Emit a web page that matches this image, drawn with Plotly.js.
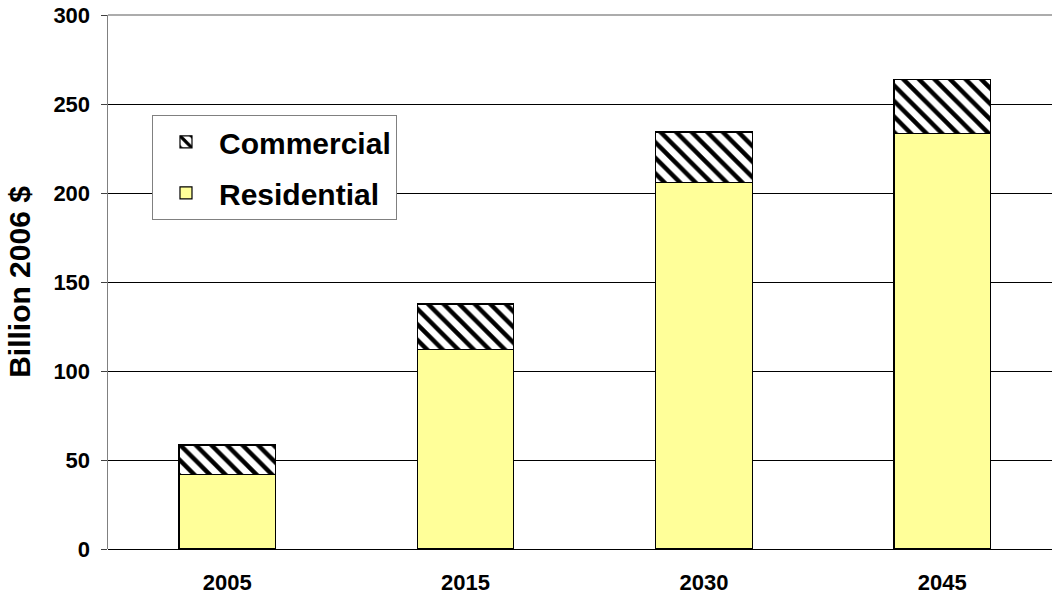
<!DOCTYPE html>
<html>
<head>
<meta charset="utf-8">
<script src="https://cdn.plot.ly/plotly-3.0.1.min.js"></script>
<style>html,body{margin:0;padding:0;background:#fff}#chart{width:1052px;height:598px}</style>
</head>
<body>
<div id="chart"></div>
<script>
const years = ['2005', '2015', '2030', '2045'];
const residential = [41.7, 112.0, 206.0, 233.5];
const commercial = [16.7, 25.6, 28.3, 30.2];
const yTicks = [0, 50, 100, 150, 200, 250, 300];

const traces = [
  {
    type: 'bar', name: 'Residential', x: years, y: residential, legendgroup: 'r', legendrank: 2,
    marker: {color: '#ffff99', line: {color: '#000', width: 1.2}},
    hoverinfo: 'skip'
  },
  {
    type: 'bar', name: 'Commercial', x: years, y: commercial, legendgroup: 'c', legendrank: 1,
    marker: {color: '#ffffff', line: {color: '#000', width: 1.2},
      pattern: {shape: '\\', fgcolor: '#000', bgcolor: '#fff', size: 11, solidity: 0.4}},
    hoverinfo: 'skip'
  }
];

const layout = {
  width: 1052, height: 598,
  margin: {l: 108, r: 0, t: 15, b: 49},
  paper_bgcolor: '#fff', plot_bgcolor: '#fff',
  font: {family: 'Liberation Sans, Arial, sans-serif', color: '#000'},
  barmode: 'stack', bargap: 0.595,
  showlegend: true,
  legend: {
    x: 0.0466, y: 0.813, xanchor: 'left', yanchor: 'top',
    traceorder: 'grouped', bgcolor: '#fff', bordercolor: '#808080', borderwidth: 1,
    font: {size: 30, family: 'Liberation Sans, Arial, sans-serif', weight: 'bold'},
    itemwidth: 56, tracegroupgap: 9
  },
  xaxis: {
    type: 'category', range: [-0.5, 3.46],
    showgrid: false, showline: false, zeroline: false,
    ticks: '', tickfont: {size: 22, weight: 'bold'}, ticklabelstandoff: 18
  },
  yaxis: {
    range: [0, 300], tickvals: yTicks, ticktext: yTicks.map(String),
    showgrid: true, gridcolor: '#000', gridwidth: 1,
    zeroline: true, zerolinecolor: '#000', zerolinewidth: 1,
    showline: true, linecolor: '#808080', linewidth: 1.5,
    ticks: 'outside', ticklen: 6, tickcolor: '#404040',
    tickfont: {size: 22, weight: 'bold'}, ticklabelstandoff: 6,
    title: {text: 'Billion 2006 $', font: {size: 30, weight: 'bold'}, standoff: 14}
  },
  shapes: [{type: 'line', xref: 'paper', yref: 'paper', x0: 0, x1: 1, y0: 1, y1: 1,
            line: {color: '#909090', width: 1.5}}]
};

Plotly.newPlot('chart', traces, layout, {staticPlot: true, displayModeBar: false});
</script>
</body>
</html>
